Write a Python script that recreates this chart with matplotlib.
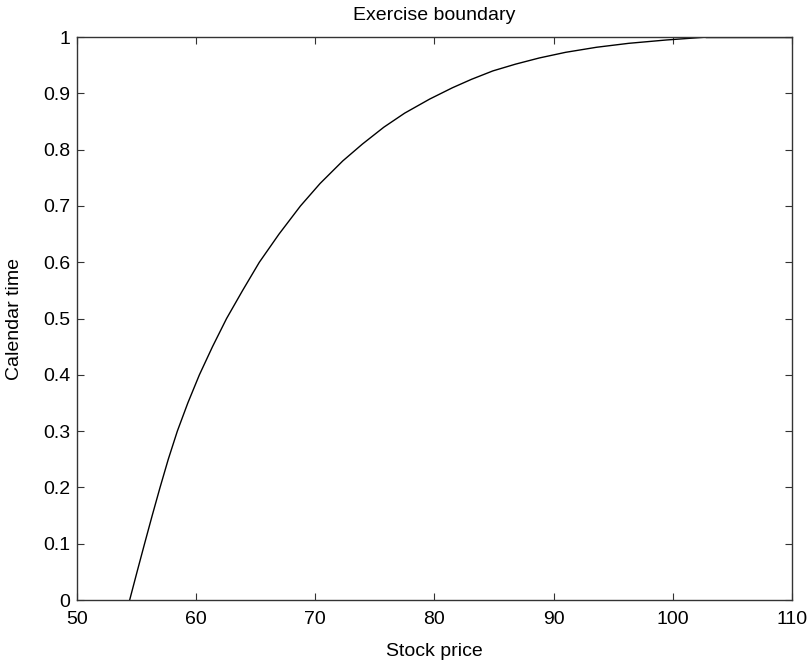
import matplotlib
matplotlib.use("Agg")
import matplotlib.pyplot as plt

# Early-exercise boundary: calendar time vs. critical stock price
calendar_time = [0.0, 0.05, 0.1, 0.15, 0.2, 0.25, 0.3, 0.35, 0.4, 0.45,
                 0.5, 0.55, 0.6, 0.65, 0.7, 0.74, 0.78, 0.81, 0.84, 0.865,
                 0.89, 0.91, 0.925, 0.94, 0.952, 0.963, 0.973, 0.982, 0.989,
                 0.995, 1.0]
stock_price = [54.42, 55.04, 55.67, 56.31, 56.97, 57.66, 58.42, 59.3, 60.27, 61.37,
               62.55, 63.9, 65.3, 66.95, 68.75, 70.4, 72.3, 73.95, 75.75, 77.5,
               79.6, 81.5, 83.1, 84.9, 86.8, 88.8, 91.0, 93.6, 96.3,
               99.5, 102.8]
x_ticks = [50, 60, 70, 80, 90, 100, 110]
y_ticks = [0, 0.1, 0.2, 0.3, 0.4, 0.5, 0.6, 0.7, 0.8, 0.9, 1]
y_labels = ["0", "0.1", "0.2", "0.3", "0.4", "0.5", "0.6", "0.7", "0.8", "0.9", "1"]

plt.rcParams["font.family"] = ["Liberation Sans", "DejaVu Sans"]

fig = plt.figure(figsize=(8.07, 6.63), dpi=100)
ax = fig.add_axes([0.0954, 0.095, 0.886, 0.849])

ax.plot(stock_price, calendar_time, color="black", linewidth=1.0)
ax.plot([stock_price[-1], 110], [1.0, 1.0], color="black", linewidth=1.0)

ax.set_xlim(50, 110)
ax.set_ylim(0, 1)
ax.set_xticks(x_ticks)
ax.set_yticks(y_ticks)
ax.set_yticklabels(y_labels)
ax.tick_params(direction="in", top=True, right=True, length=5, width=0.8,
               labelsize=14, color="#333333")
ax.tick_params(axis="x", pad=8)
ax.tick_params(axis="y", pad=5)
for spine in ax.spines.values():
    spine.set_color("#333333")
    spine.set_linewidth(1.0)

ax.set_title("Exercise boundary", fontsize=14, pad=12)
ax.set_xlabel("Stock price", fontsize=14, labelpad=11)
ax.set_ylabel("Calendar time", fontsize=14, labelpad=14)

fig.savefig("out.png", dpi=100)
